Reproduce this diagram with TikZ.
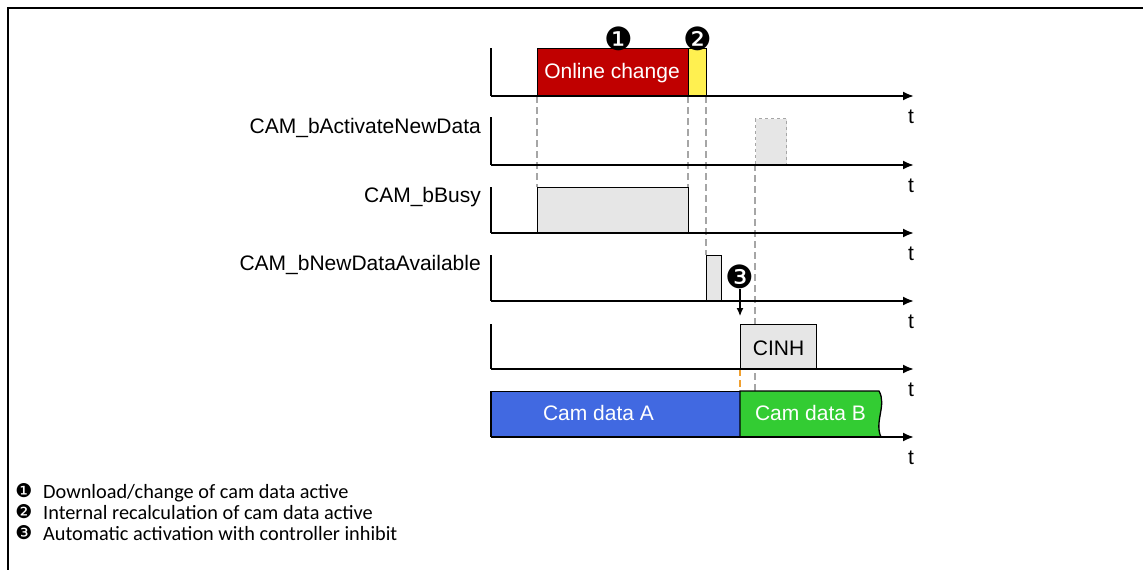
\documentclass[tikz,border=0pt]{standalone}
\usepackage{fontspec}
\setmainfont{Liberation Sans}
\newfontfamily\legfont{Carlito}
\newfontfamily\dvfont{DejaVu Sans}
\usetikzlibrary{arrows.meta}
\definecolor{ocred}{HTML}{C00000}
\definecolor{ocyel}{HTML}{FFF050}
\definecolor{boxgray}{HTML}{E6E6E6}
\definecolor{dashgray}{HTML}{A6A6A6}
\definecolor{camA}{HTML}{4169E1}
\definecolor{camB}{HTML}{33CC33}
\definecolor{orangedash}{HTML}{F0A030}
\tikzset{
  lbl/.style={font=\fontsize{21}{25}\selectfont, inner sep=0pt},
  tlbl/.style={font=\fontsize{21}{25}\selectfont, inner sep=0pt, anchor=base},
  sigbox/.style={draw=black, line width=1.3pt, inner sep=0pt, anchor=north west},
  axisline/.style={line width=2pt, -{Latex[length=11pt,width=9pt]}},
  leftline/.style={line width=1.8pt},
  guide/.style={dashgray, line width=1.1pt, dash pattern=on 7pt off 4pt},
  marker/.style={font=\dvfont\fontsize{32}{32}\selectfont, inner sep=0pt},
  legmark/.style={font=\dvfont\fontsize{19}{19}\selectfont, inner sep=0pt},
  legtext/.style={font=\legfont\fontsize{20.3}{24}\selectfont, inner sep=0pt, anchor=base west},
}
\begin{document}
\begin{tikzpicture}[x=1pt,y=-1pt]
\useasboundingbox (0,0) rectangle (1143,570);
% frame
\draw[line width=2.5pt] (8,570) -- (8,8) -- (1143,8);

% guides (behind boxes)
\draw[guide] (537,96) -- (537,187);
\draw[guide] (688,96) -- (688,187);
\draw[guide] (706,96) -- (706,255);
\draw[guide] (755,164) -- (755,391);
\draw[orangedash, line width=1.1pt, dash pattern=on 7pt off 4pt] (740,369) -- (740,391);

% row 1
\node[sigbox, fill=ocred, minimum width=151pt, minimum height=48pt] (online) at (537,48) {};
\node[sigbox, fill=ocyel, minimum width=18pt, minimum height=48pt] (recalc) at (688,48) {};
\node[lbl, anchor=base, text=white] (onlinetxt) at (612,78) {Online change};
\node[marker] (m1) at (619,39) {❶};
\node[marker] (m2) at (698,39) {❷};

% row 2
\node[draw=dashgray, dashed, line width=1.1pt, fill=boxgray, inner sep=0pt, anchor=north west, minimum width=31pt, minimum height=46pt] (actbox) at (755,118) {};
% row 3
\node[sigbox, fill=boxgray, minimum width=151pt, minimum height=46pt] (busybox) at (537,187) {};
% row 4
\node[sigbox, fill=boxgray, minimum width=15pt, minimum height=45pt] (ndabox) at (706,255) {};
% row 5
\node[sigbox, fill=boxgray, minimum width=76pt, minimum height=45pt] (cinh) at (740,324) {};
\node[lbl, anchor=base] (cinhtxt) at (778.5,355) {CINH};
% row 6
\node[sigbox, fill=camA, minimum width=249pt, minimum height=46pt] (cama) at (491,391) {};
\draw[line width=1.3pt, fill=camB] (740,391) -- (879,391) .. controls (887,405) and (874,422) .. (881,437) -- (740,437) -- cycle;
\node[lbl, anchor=base, text=white] (camatxt) at (598.5,420) {Cam data A};
\node[lbl, anchor=base, text=white] (cambtxt) at (810.5,420) {Cam data B};

% marker 3 and arrow
\node[marker] (m3) at (740,277) {❸};
\coordinate (m3tip) at (740,316);
\draw[line width=1.2pt, -{Latex[length=8pt,width=7pt]}] (m3.south) -- (m3tip);

% left lines and axes
\foreach \top/\ax in {48/96, 117/165, 187/233, 255/301, 324/369, 391/437}{
  \draw[leftline] (491,\top) -- (491,\ax);
  \draw[axisline] (491,\ax) -- (914,\ax);
}
\foreach \ax in {96,165,233,301,369,437}{
  \node[tlbl] at (911,\ax+27) {t};
}

% signal names
\node[lbl, anchor=base east] (sig1) at (481,133) {CAM\_bActivateNewData};
\node[lbl, anchor=base east] (sig2) at (481,202) {CAM\_bBusy};
\node[lbl, anchor=base east] (sig3) at (481,270.5) {CAM\_bNewDataAvailable};

% legend
\node[legmark] (lm1) at (24,491) {❶};
\node[legtext] (lt1) at (43,498) {Download/change of cam data active};
\node[legmark] (lm2) at (24,512) {❷};
\node[legtext] (lt2) at (43,519) {Internal recalculation of cam data active};
\node[legmark] (lm3) at (24,533) {❸};
\node[legtext] (lt3) at (43,540) {Automatic activation with controller inhibit};
\end{tikzpicture}
\end{document}
